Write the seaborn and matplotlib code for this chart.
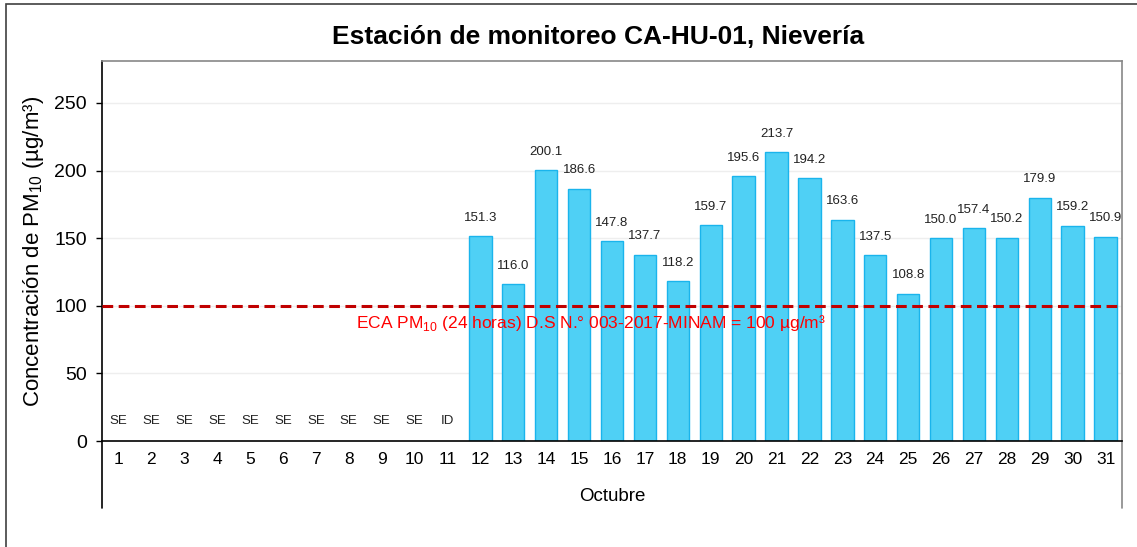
import numpy as np
import pandas as pd
import seaborn as sns
import matplotlib.pyplot as plt
from matplotlib.patches import Rectangle
from matplotlib.lines import Line2D

days = [str(d) for d in range(1, 32)]
status = ["SE"] * 10 + ["ID"] + [""] * 20
pm10 = [np.nan] * 11 + [151.3, 116.0, 200.1, 186.6, 147.8, 137.7, 118.2, 159.7,
                        195.6, 213.7, 194.2, 163.6, 137.5, 108.8, 150.0, 157.4,
                        150.2, 179.9, 159.2, 150.9]
eca_limit = 100

sns.set_theme(style="white")
plt.rcParams['font.family'] = ['Liberation Sans', 'DejaVu Sans']
plt.rcParams['mathtext.fontset'] = 'custom'
plt.rcParams['mathtext.rm'] = 'Liberation Sans'

df = pd.DataFrame({"dia": days, "pm10": pm10})

fig = plt.figure(figsize=(11.37, 5.47), dpi=100)
ax = fig.add_axes([102 / 1137, 106 / 547, 1020 / 1137, 380 / 547])

sns.barplot(data=df, x="dia", y="pm10", order=days, color="#4FD0F5",
            saturation=1, width=0.68, edgecolor="#1AB4EC", linewidth=1,
            errorbar=None, ax=ax)

ax.set_ylim(0, 281)
ax.set_xlim(-0.5, len(days) - 0.5)
ax.set_yticks(range(0, 251, 50))
ax.yaxis.grid(True, color="#EEEEEE", linewidth=1)
ax.set_axisbelow(True)

ax.axhline(eca_limit, color="#C00000", linestyle=(0, (3.5, 1.8)), linewidth=2.2, zorder=5)
ax.text(14.36, 87, "ECA PM$_{10}$ (24 horas) D.S N.° 003-2017-MINAM = 100 µg/m³",
        color="#FF0000", fontsize=12.5, ha="center", va="center", zorder=6)

for i, (v, s) in enumerate(zip(pm10, status)):
    if np.isnan(v):
        ax.annotate(s, (i, 0), xytext=(0, 10), textcoords="offset points",
                    ha="center", va="bottom", fontsize=9.5, color="#222222")
    else:
        ax.annotate(f"{v:.1f}", (i, v), xytext=(0, 9), textcoords="offset points",
                    ha="center", va="bottom", fontsize=9.5, color="#222222")

# category separators below the axis
ax.set_xticks(np.arange(0.5, len(days) - 1, 1), minor=True)
ax.tick_params(axis="x", which="minor", length=24.5, width=1, color="black", direction="out")
ax.tick_params(axis="x", which="major", length=0, pad=8, labelsize=12.5, labelcolor="black")
ax.tick_params(axis="y", which="major", left=True, length=4, width=1, color="black",
               labelsize=14, labelcolor="black", pad=7)

ax.set_xlabel("")
ax.set_ylabel("Concentración de PM$_{10}$ (µg/m³)", fontsize=16, color="black", labelpad=6)
ax.text(0.5, -0.145, "Octubre", transform=ax.transAxes, ha="center", va="center",
        fontsize=13.5, color="black")

for side in ["left", "bottom"]:
    ax.spines[side].set_color("black")
    ax.spines[side].set_linewidth(1.2)
for side in ["top", "right"]:
    ax.spines[side].set_color("#888888")
    ax.spines[side].set_linewidth(1.2)

ax.add_line(Line2D([0, 0], [0, -0.176], transform=ax.transAxes, color="black",
                   linewidth=1.2, clip_on=False))
ax.add_line(Line2D([1, 1], [0, -0.176], transform=ax.transAxes, color="#888888",
                   linewidth=1.2, clip_on=False))

fig.text(598 / 1137, 1 - 37 / 547, "Estación de monitoreo CA-HU-01, Nievería",
         ha="center", va="center", fontsize=19, fontweight="bold", color="black")

fig.patches.append(Rectangle((6 / 1137, -0.02), 1.0, 1 - 4 / 547 + 0.02,
                             transform=fig.transFigure, fill=False,
                             edgecolor="#404040", linewidth=1.2))

fig.savefig("out.png", dpi=100)
